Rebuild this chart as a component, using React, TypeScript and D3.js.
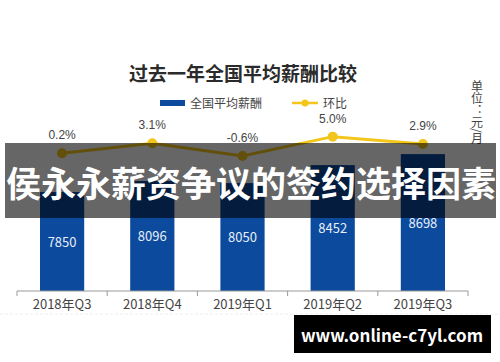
import * as d3 from "d3";
import React from "react";

const quarters = ["2018年Q3", "2018年Q4", "2019年Q1", "2019年Q2", "2019年Q3"];
const salary = [7850, 8096, 8050, 8452, 8698];
const growth = [0.2, 3.1, -0.6, 5.0, 2.9];

const BLUE = "#0b4a9c";
const YELLOW = "#f3c61b";
const FONT = "'Noto Sans CJK SC', 'Noto Sans', sans-serif";
const NUM_FONT = "'Liberation Sans', Arial, sans-serif";

const App: React.FC = () => {
  const x = d3.scaleBand<string>().domain(quarters).range([17, 468]).padding(0);
  const bw = x.bandwidth();
  const barW = bw * 0.49;
  const y = d3.scaleLinear().domain([5640, 8700]).range([291, 154]);
  const y2 = d3.scaleLinear().domain([-1, 6]).range([157.4, 133.2]);

  const cx = (q: string) => (x(q) || 0) + bw / 2;
  const line = d3
    .line<number>()
    .x((_, i) => cx(quarters[i]))
    .y((d) => y2(d));

  const edges = quarters.map((q) => x(q) || 0).concat([468]);

  return (
    <svg width={500} height={362} style={{ position: "absolute", left: 0, top: 0 }}>
      <rect width={500} height={362} fill="#fff" />
      <text x={243} y={81} textAnchor="middle" fontFamily={FONT} fontWeight="bold" fontSize={19} fill="#2b2b2b">
        过去一年全国平均薪酬比较
      </text>

      {/* legend */}
      <rect x={160} y={100} width={25} height={6} fill={BLUE} />
      <text x={190} y={107.5} fontFamily={FONT} fontSize={12} fill="#444">全国平均薪酬</text>
      <line x1={292} x2={318} y1={103} y2={103} stroke={YELLOW} strokeWidth={2.5} />
      <circle cx={305} cy={103} r={3.5} fill={YELLOW} />
      <text x={323} y={107.5} fontFamily={FONT} fontSize={12} fill="#444">环比</text>

      <text
        x={477}
        y={80}
        fontFamily={FONT}
        fontSize={12}
        fill="#444"
        style={{ writingMode: "vertical-rl" as any }}
      >
        单位：元/月
      </text>

      {/* bars */}
      {quarters.map((q, i) => (
        <g key={q}>
          <rect x={cx(q) - barW / 2} y={y(salary[i])} width={barW} height={y.range()[0] - y(salary[i])} fill={BLUE} />
          <text
            x={cx(q)}
            y={(y(salary[i]) + y.range()[0]) / 2 + 5}
            textAnchor="middle"
            fontFamily={FONT}
            fontSize={13}
            fill="#e8eef8"
          >
            {salary[i]}
          </text>
        </g>
      ))}

      {/* axis */}
      <line x1={17} x2={468} y1={291} y2={291} stroke="#999" strokeWidth={1} />
      {edges.map((e, i) => (
        <line key={i} x1={e} x2={e} y1={291} y2={296} stroke="#999" />
      ))}
      {quarters.map((q) => (
        <text key={q} x={cx(q)} y={309} textAnchor="middle" fontFamily={FONT} fontSize={13} fill="#444">
          {q}
        </text>
      ))}
      <line x1={0} x2={500} y1={314} y2={314} stroke="#eee" strokeDasharray="3,2" />

      {/* growth line */}
      <path d={line(growth) || ""} fill="none" stroke={YELLOW} strokeWidth={3} />
      {growth.map((g, i) => (
        <g key={i}>
          <circle cx={cx(quarters[i])} cy={y2(g)} r={5} fill={YELLOW} />
          <text
            x={cx(quarters[i])}
            y={y2(g) - 14}
            textAnchor="middle"
            fontFamily={NUM_FONT}
            fontSize={12}
            fill="#444"
          >
            {g.toFixed(1)}%
          </text>
        </g>
      ))}

      {/* overlay banner */}
      <rect x={5} y={143} width={491} height={75} fill="rgba(0,0,0,0.6)" />
      <text x={251} y={197} textAnchor="middle" fontFamily={FONT} fontWeight="bold" fontSize={35} fill="#fff">
        侯永永薪资争议的签约选择因素
      </text>

      <rect x={294} y={315} width={197} height={38} fill="#000" />
      <text x={392} y={342} textAnchor="middle" fontFamily={FONT} fontWeight="bold" fontSize={17} fill="#fff">
        www.online-c7yl.com
      </text>
    </svg>
  );
};

export default App;
